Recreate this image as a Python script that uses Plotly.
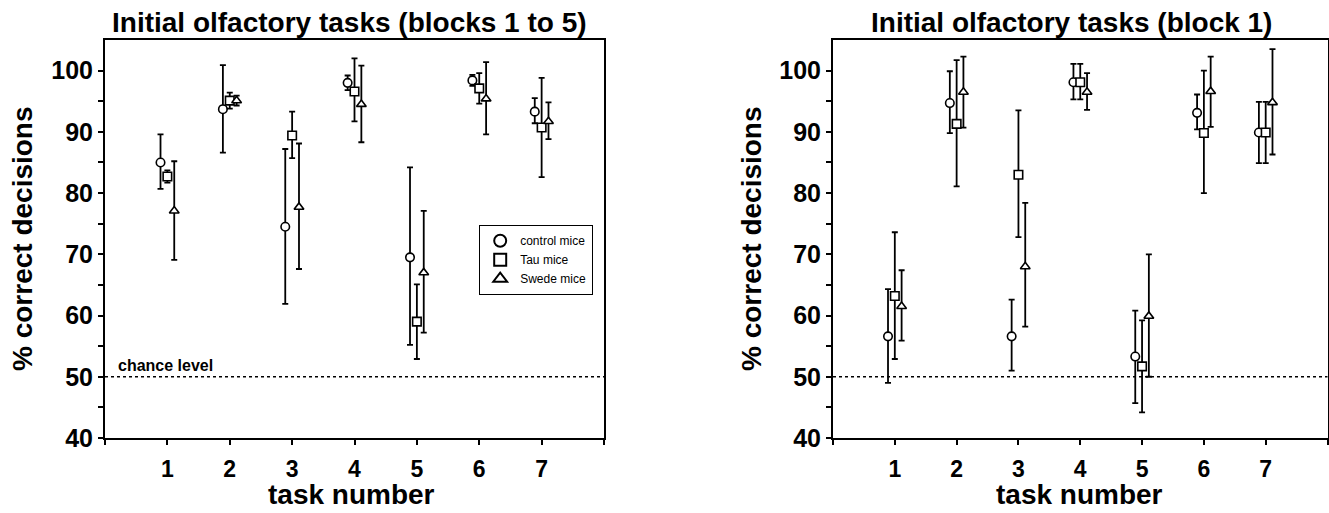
import plotly.graph_objects as go

# ---------------- data ----------------
TASKS = [1, 2, 3, 4, 5, 6, 7]
GROUPS = ["control mice", "Tau mice", "Swede mice"]
CHANCE = 50

X_TICK_VALS = [0, 1, 2, 3, 4, 5, 6, 7, 8]
X_TICK_TEXT = ["", "1", "2", "3", "4", "5", "6", "7", ""]
Y_TICK_VALS = [40, 45, 50, 55, 60, 65, 70, 75, 80, 85, 90, 95, 100]
Y_TICK_TEXT = ["40", "", "50", "", "60", "", "70", "", "80", "", "90", "", "100"]

# Left panel: blocks 1 to 5
L_control_mean = [85.0, 93.7, 74.5, 98.0, 69.5, 98.4, 93.3]
L_control_up   = [89.6, 100.9, 87.2, 99.2, 84.2, 99.3, 95.5]
L_control_lo   = [80.7, 86.6, 61.9, 96.8, 55.2, 97.5, 91.4]
L_tau_mean = [82.7, 95.1, 89.4, 96.6, 59.0, 97.1, 90.7]
L_tau_up   = [83.7, 96.4, 93.3, 102.0, 65.1, 99.6, 98.8]
L_tau_lo   = [81.7, 93.8, 85.7, 91.7, 52.9, 94.6, 82.6]
L_swede_mean = [77.1, 95.1, 77.7, 94.5, 67.0, 95.4, 91.7]
L_swede_up   = [85.2, 95.9, 88.1, 100.8, 77.1, 101.4, 94.8]
L_swede_lo   = [69.1, 94.3, 67.6, 88.3, 57.2, 89.6, 88.8]

# Right panel: block 1
R_control_mean = [56.6, 94.7, 56.6, 98.1, 53.3, 93.1, 89.9]
R_control_up   = [64.3, 99.9, 62.6, 101.1, 60.8, 96.1, 94.9]
R_control_lo   = [49.0, 89.8, 51.0, 95.3, 45.7, 90.4, 84.9]
R_tau_mean = [63.2, 91.3, 83.0, 98.1, 51.7, 89.8, 89.9]
R_tau_up   = [73.6, 101.7, 93.5, 101.1, 59.2, 100.0, 94.9]
R_tau_lo   = [52.9, 81.1, 72.8, 95.3, 44.2, 80.0, 84.9]
R_swede_mean = [61.5, 96.5, 68.0, 96.5, 59.9, 96.6, 94.8]
R_swede_up   = [67.4, 102.3, 78.4, 99.6, 70.0, 102.3, 103.5]
R_swede_lo   = [55.9, 90.7, 58.2, 93.6, 50.0, 90.8, 86.3]

TITLE_L = "Initial olfactory tasks (blocks 1 to 5)"
TITLE_R = "Initial olfactory tasks (block 1)"
X_TITLE = "task number"
Y_TITLE = "% correct decisions"
CHANCE_TEXT = "chance level"

# ---------------- style ----------------
FONT = "Liberation Sans, Arial, sans-serif"
W, H = 1329, 513
OFFSETS = [-0.11, 0.0, 0.11]
FILLED = ["circle", "square", "triangle-up"]

fig = go.Figure()

panels = [
    ("x", "y", [(L_control_mean, L_control_up, L_control_lo),
                (L_tau_mean, L_tau_up, L_tau_lo),
                (L_swede_mean, L_swede_up, L_swede_lo)], True),
    ("x2", "y2", [(R_control_mean, R_control_up, R_control_lo),
                  (R_tau_mean, R_tau_up, R_tau_lo),
                  (R_swede_mean, R_swede_up, R_swede_lo)], False),
]

for xa, ya, series, show in panels:
    for gi, (mean, up, lo) in enumerate(series):
        fig.add_trace(go.Scatter(
            x=[t + OFFSETS[gi] for t in TASKS],
            y=mean,
            mode="markers",
            name=GROUPS[gi],
            showlegend=show,
            xaxis=xa, yaxis=ya,
            marker=dict(symbol=FILLED[gi], size=8.5, color="white",
                        line=dict(color="black", width=1.6)),
            error_y=dict(type="data", symmetric=False,
                         array=[u - m for u, m in zip(up, mean)],
                         arrayminus=[m - l for l, m in zip(lo, mean)],
                         color="black", thickness=1.8, width=3),
        ))

dom_l = [105 / W, 604 / W]
dom_r = [833 / W, 1327.5 / W]
dom_y = [1 - 438 / H, 1 - 40 / H]

xcommon = dict(range=[0, 8], tickmode="array", tickvals=X_TICK_VALS, ticktext=X_TICK_TEXT,
               ticks="outside", ticklen=5, tickwidth=1.5, tickcolor="black",
               showline=True, linewidth=2, linecolor="black", mirror=True,
               showgrid=False, zeroline=False, ticklabelstandoff=4, automargin=False,
               tickfont=dict(family=FONT, size=23, color="black", weight="bold"))
ycommon = dict(range=[40, 105], tickmode="array", tickvals=Y_TICK_VALS, ticktext=Y_TICK_TEXT,
               ticks="outside", ticklen=5, tickwidth=1.5, tickcolor="black",
               showline=True, linewidth=2, linecolor="black", mirror=True,
               showgrid=False, zeroline=False, automargin=False,
               tickfont=dict(family=FONT, size=25, color="black", weight="bold"))

fig.update_layout(
    width=W - 16, height=H - 16, autosize=False,
    margin=dict(l=0, r=0, t=0, b=0, pad=0, autoexpand=False),
    paper_bgcolor="white", plot_bgcolor="white",
    font=dict(family=FONT, color="black"),
    xaxis=dict(domain=dom_l, anchor="y", **xcommon),
    yaxis=dict(domain=dom_y, anchor="x", **ycommon),
    xaxis2=dict(domain=dom_r, anchor="y2", **xcommon),
    yaxis2=dict(domain=dom_y, anchor="x2", **ycommon),
    legend=dict(x=593 / W, xanchor="right", y=1 - 225 / H, yanchor="top",
                bordercolor="black", borderwidth=1.2, bgcolor="white",
                font=dict(family=FONT, size=12, color="black"),
                tracegroupgap=0, itemsizing="constant"),
)

# chance lines
for xref, yref in [("x domain", "y"), ("x2 domain", "y2")]:
    fig.add_shape(type="line", xref=xref, yref=yref, x0=0, x1=1, y0=CHANCE, y1=CHANCE,
                  line=dict(color="black", width=1.5, dash="dot"))

fig.add_annotation(x=0.17, y=CHANCE + 0.2, xref="x", yref="y", text=CHANCE_TEXT,
                   showarrow=False, xanchor="left", yanchor="bottom",
                   font=dict(family=FONT, size=16, color="black", weight="bold"))

# titles and axis titles
big = dict(family=FONT, size=28, color="black", weight="bold")
for xc, txt in [(349, TITLE_L), (1071, TITLE_R)]:
    fig.add_annotation(x=xc / W, y=1 - 22 / H, xref="paper", yref="paper", text=txt,
                       showarrow=False, xanchor="center", yanchor="middle", font=big)
for xc in [351, 1079]:
    fig.add_annotation(x=xc / W, y=1 - 494 / H, xref="paper", yref="paper", text=X_TITLE,
                       showarrow=False, xanchor="center", yanchor="middle", font=big)
for xc in [23, 752]:
    fig.add_annotation(x=xc / W, y=1 - 239 / H, xref="paper", yref="paper", text=Y_TITLE,
                       showarrow=False, xanchor="center", yanchor="middle", textangle=-90,
                       font=big)

post = (
    "document.documentElement.style.margin='0';"
    "document.body.style.margin='0';"
    "document.body.style.overflow='hidden';"
    "var gd=document.getElementById('{plot_id}');"
    "gd.style.width='%dpx';gd.style.height='%dpx';"
    "Plotly.relayout(gd,{width:%d,height:%d});" % (W, H, W, H)
)
fig.write_html("out.html", config={"displayModeBar": False, "responsive": False},
               post_script=post)
